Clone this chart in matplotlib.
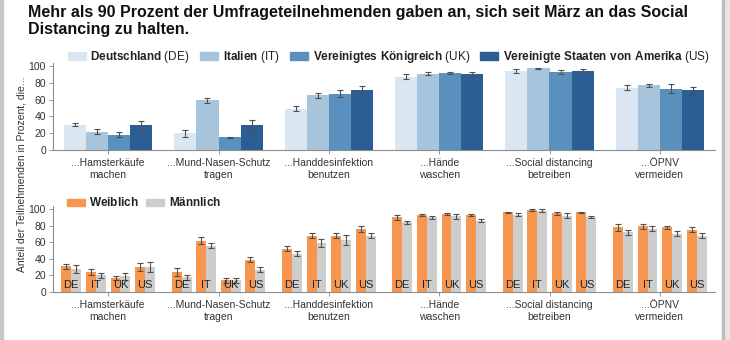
import numpy as np
import matplotlib.pyplot as plt
from matplotlib.patches import Patch, Rectangle

plt.rcParams['font.family'] = ['Liberation Sans', 'DejaVu Sans']
plt.rcParams['mathtext.fontset'] = 'custom'
plt.rcParams['mathtext.rm'] = 'Liberation Sans'
plt.rcParams['mathtext.bf'] = 'Liberation Sans:bold'

title = ('Mehr als 90 Prozent der Umfrageteilnehmenden gaben an, sich seit März an das Social\n'
         'Distancing zu halten.')
ylabel = 'Anteil der Teilnehmenden in Prozent, die...'

categories = ['...Hamsterkäufe\nmachen', '...Mund-Nasen-Schutz\ntragen',
              '...Handdesinfektion\nbenutzen', '...Hände\nwaschen',
              '...Social distancing\nbetreiben', '...ÖPNV\nvermeiden']
countries = ['DE', 'IT', 'UK', 'US']
country_names = ['Deutschland', 'Italien', 'Vereinigtes Königreich',
                 'Vereinigte Staaten von Amerika']

# top panel: share per country
de = [30, 20, 49, 87, 94, 74]
it = [22, 59, 65, 91, 97, 77]
uk = [18, 15, 67, 92, 93, 73]
us = [30, 30, 71, 90, 94, 71]
de_err = [2, 4, 3, 3, 2, 3]
it_err = [3, 3, 3, 2, 1, 2]
uk_err = [3, 1, 4, 1, 2, 5]
us_err = [5, 6, 5, 3, 2, 4]

# bottom panel: women / men per country, rows = DE, IT, UK, US
female = [[31, 24, 52, 90, 96, 78],
          [24, 62, 68, 93, 99, 79],
          [17, 14, 68, 94, 95, 78],
          [30, 39, 76, 93, 96, 75]]
male = [[28, 18, 46, 84, 93, 72],
        [20, 56, 59, 90, 98, 76],
        [19, 14, 63, 91, 92, 70],
        [30, 27, 68, 86, 90, 68]]
female_err = [[3, 5, 3, 3, 1, 4],
              [4, 4, 3, 1, 1, 3],
              [2, 3, 3, 1, 2, 2],
              [5, 3, 4, 1, 1, 3]]
male_err = [[5, 3, 3, 2, 2, 3],
            [3, 3, 5, 2, 2, 3],
            [4, 3, 6, 3, 3, 3],
            [6, 3, 3, 2, 1, 3]]

country_colors = ['#dae6f1', '#a6c4db', '#5a90be', '#2c5d94']
female_color = '#f7974f'
male_color = '#cdcdcd'
err_kw = dict(ecolor='#505050', elinewidth=0.8, capsize=2, capthick=0.8)

fig = plt.figure(figsize=(7.3, 3.4), dpi=100)
fig.patch.set_facecolor('white')

ax_top = fig.add_axes([53 / 730, 1 - 150 / 340, 662 / 730, 87.4 / 340])
ax_bot = fig.add_axes([53 / 730, 1 - 292 / 340, 662 / 730, 86.3 / 340])

x = np.arange(len(categories))
series = [de, it, uk, us]
errors = [de_err, it_err, uk_err, us_err]
for i in range(4):
    ax_top.bar(x + (i - 1.5) * 0.2, series[i], 0.2, color=country_colors[i],
               yerr=errors[i], error_kw=err_kw, zorder=2)

for i in range(4):
    centre = x + (i - 1.5) * 0.223
    ax_bot.bar(centre - 0.045, female[i], 0.09, color=female_color,
               yerr=female_err[i], error_kw=err_kw, zorder=2)
    ax_bot.bar(centre + 0.045, male[i], 0.09, color=male_color,
               yerr=male_err[i], error_kw=err_kw, zorder=2)
    for c in centre:
        ax_bot.text(c, 2, countries[i], ha='center', va='bottom',
                    fontsize=8, color='#222222', zorder=3)

for ax in (ax_top, ax_bot):
    ax.set_xlim(-0.5, 5.5)
    ax.set_ylim(0, 104)
    ax.set_yticks([0, 20, 40, 60, 80, 100])
    ax.set_xticks(x)
    ax.set_xticklabels(categories, fontsize=7.5, color='#333333', linespacing=1.2)
    ax.tick_params(axis='y', labelsize=7.5, colors='#333333', length=3,
                   width=0.6, pad=2)
    ax.tick_params(axis='x', length=3, width=0.6, color='#888888', pad=3)
    ax.tick_params(axis='y', color='#888888')
    for s in ('top', 'right'):
        ax.spines[s].set_visible(False)
    for s in ('left', 'bottom'):
        ax.spines[s].set_color('#8c8c8c')
        ax.spines[s].set_linewidth(0.8)

top_handles = [Patch(color=c) for c in country_colors]
top_labels = []
for name, code in zip(country_names, countries):
    top_labels.append(r'$\mathbf{' + name.replace(' ', r'\ ') + '}$ (' + code + ')')
fig.legend(top_handles, top_labels, ncol=4, loc='center left',
           bbox_to_anchor=(68 / 730, 1 - 57 / 340), frameon=False,
           fontsize=8.5, handlelength=1.5, handleheight=0.6,
           handletextpad=0.4, columnspacing=0.9, borderpad=0, borderaxespad=0,
           labelcolor='#222222')

bot_handles = [Patch(color=female_color), Patch(color=male_color)]
fig.legend(bot_handles, [r'$\mathbf{Weiblich}$', r'$\mathbf{Männlich}$'],
           ncol=2, loc='center left', bbox_to_anchor=(67 / 730, 1 - 203 / 340),
           frameon=False, fontsize=8.5, handlelength=1.5, handleheight=0.6,
           handletextpad=0.4, columnspacing=0.6, borderpad=0, borderaxespad=0,
           labelcolor='#222222')

fig.text(28 / 730, 1 - 5 / 340, title, ha='left', va='top', fontsize=11.5,
         fontweight='bold', color='#111111', linespacing=1.15)
fig.text(22 / 730, 1 - 174 / 340, ylabel, rotation=90, ha='center', va='center',
         fontsize=7.5, color='#333333')

# grey frame at the image edges
fig.patches.append(Rectangle((0, 0), 3 / 730, 1, transform=fig.transFigure,
                             color='#c8c8c8', zorder=0))
fig.patches.append(Rectangle((722 / 730, 0), 8 / 730, 1, transform=fig.transFigure,
                             color='#e6e6e6', zorder=0))
fig.patches.append(Rectangle((722 / 730, 0), 1.5 / 730, 1, transform=fig.transFigure,
                             color='#bdbdbd', zorder=0))

fig.savefig('out.png', dpi=100)
